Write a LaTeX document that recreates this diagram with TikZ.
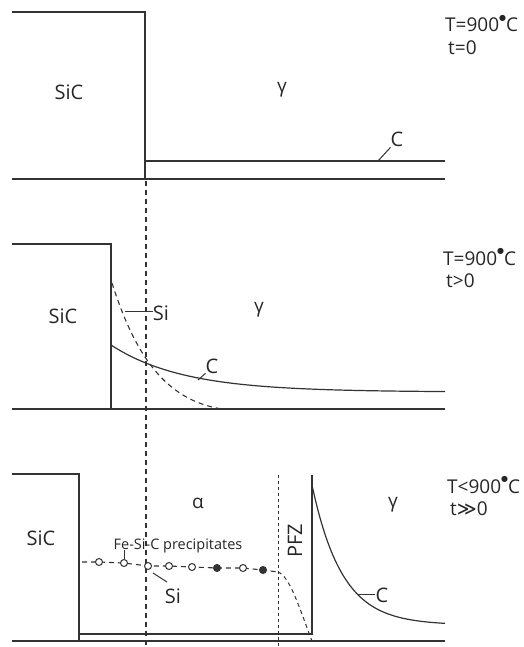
\documentclass[tikz,border=0pt]{standalone}
\usepackage{fontspec}
\setmainfont{Open Sans}
\newfontfamily\djv{DejaVu Sans}
\newcommand{\degdot}{\raisebox{0.62em}{\fontsize{8}{8}\selectfont\djv ●}}
\begin{document}
\begin{tikzpicture}[x=1pt,y=-1pt,
  solidline/.style={line width=1.2pt, draw=black!80},
  leader/.style={line width=1pt, draw=black!80},
  refdash/.style={line width=1.1pt, draw=black!80, dash pattern=on 5pt off 4pt},
  pfzdash/.style={line width=1pt, draw=black!80, dash pattern=on 3pt off 3pt},
  bigtxt/.style={font=\fontsize{20}{22}\selectfont, text=black!85, inner sep=0pt},
  condtxt/.style={font=\fontsize{19}{21}\selectfont, text=black!85, inner sep=0pt, anchor=base west},
  greek/.style={font=\fontsize{19}{21}\selectfont, text=black!85, inner sep=0pt},
  smalltxt/.style={font=\fontsize{14.5}{16}\selectfont, text=black!85, inner sep=0pt},
  precopen/.style={circle, draw=black!80, line width=1pt, fill=white, minimum size=7pt, inner sep=0pt},
  precfull/.style={circle, draw=black!80, line width=1pt, fill=black!80, minimum size=7pt, inner sep=0pt}]
\useasboundingbox (0,0) rectangle (523,647);

% ---------- Panel 1 ----------
\draw[solidline] (12,12) -- (145,12) -- (145,179);
\draw[solidline] (12,179) -- (445,179);
\draw[solidline] (145,161) -- (445,161);
\node[bigtxt, anchor=base] (sic1) at (69,100) {SiC};
\node[greek] (g1) at (282,90) {γ};
\node[bigtxt, anchor=base] (c1) at (397,147) {C};
\coordinate (c1end) at (378,161);
\draw[leader] (c1end) -- (c1.south west);
\node[condtxt] (T1) at (445,32) {T=900\degdot C};
\node[condtxt] (t1) at (448,55) {t=0};

% ---------- reference dashed line ----------
\coordinate (dtop) at (146,181);
\coordinate (dbot) at (146,646);
\draw[refdash] (dtop) -- (dbot);

% ---------- Panel 2 ----------
\draw[solidline] (12,244) -- (111,244) -- (111,409);
\draw[solidline] (12,409) -- (445,409);
\draw[solidline] plot[domain=111:445, samples=80] (\x, {392-47*exp(-(\x-111)/72)});
\draw[refdash] (112,283) .. controls (135,355) and (165,400) .. (222,409);
\node[bigtxt, anchor=base] (sic2) at (63,323) {SiC};
\node[bigtxt, anchor=base] (si2) at (161,320) {Si};
\coordinate (si2end) at (125,311);
\draw[leader] (si2end) -- (si2.west |- si2end);
\node[greek] (g2) at (259,310) {γ};
\node[bigtxt, anchor=base] (c2) at (212,373) {C};
\coordinate (c2end) at (198,380);
\draw[leader] (c2end) -- (c2.south west);
\node[condtxt] (T2) at (443,265) {T=900\degdot C};
\node[condtxt] (t2) at (446,287) {t>0};

% ---------- Panel 3 ----------
\draw[solidline] (12,474) -- (79,474) -- (79,641);
\draw[solidline] (12,641) -- (445,641);
\draw[solidline] (79,634) -- (312,634) -- (312,475);
\draw[solidline] plot[domain=312.5:445, samples=100] (\x, {625-140*exp(-(\x-312)/30)});
\draw[pfzdash] (278,475) -- (278,646);

\coordinate (q0) at (82,562);
\coordinate (q1) at (99,562);
\coordinate (q2) at (124,563);
\coordinate (q3) at (148,566);
\coordinate (q4) at (169,566);
\coordinate (q5) at (192,567);
\coordinate (q6) at (217,568);
\coordinate (q7) at (243,568);
\coordinate (q8) at (263,570);
\coordinate (q9) at (278,572);
\coordinate (q10) at (312,641);
\draw[refdash] (q0) -- (q1) -- (q2) -- (q3) -- (q4) -- (q5) -- (q6) -- (q7) -- (q8) -- (q9);
\draw[pfzdash, dash pattern=on 4pt off 3.5pt] (q9) .. controls (290,576) and (300,610) .. (q10);
\node[precopen] (p1) at (q1) {};
\node[precopen] (p2) at (q2) {};
\node[precopen] (p3) at (q3) {};
\node[precopen] (p4) at (q4) {};
\node[precopen] (p5) at (q5) {};
\node[precfull] (p6) at (q6) {};
\node[precopen] (p7) at (q7) {};
\node[precfull] (p8) at (q8) {};

\node[bigtxt, anchor=base] (sic3) at (41,545) {SiC};
\node[greek] (a3) at (198,503) {α};
\node[greek] (g3) at (393,505) {γ};
\node[smalltxt, anchor=base] (prec) at (178,549) {Fe-Si-C precipitates};
\coordinate (preclead) at (124,549.5);
\draw[leader, line width=0.8pt] (preclead) -- (p2.north);
\node[bigtxt, anchor=base] (si3) at (173,603) {Si};
\coordinate (si3end) at (153,573);
\draw[leader] (si3end) -- (167,582);
\node[bigtxt, anchor=base, rotate=90] (pfz) at (302,541) {PFZ};
\node[bigtxt, anchor=base] (c3) at (382,602) {C};
\coordinate (c3end) at (357,594);
\draw[leader] (c3end) -- (c3.west |- c3end);
\node[condtxt] (T3) at (447,493) {T<900\degdot C};
\node[condtxt] (t3) at (450,515) {t{\djv ≫}0};
\end{tikzpicture}
\end{document}
